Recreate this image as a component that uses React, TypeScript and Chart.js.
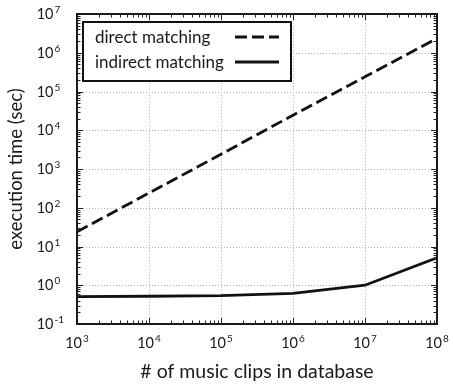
import React, { useEffect, useRef } from "react";
import { Chart, registerables } from "chart.js";

Chart.register(...registerables);

const clips = [1e3, 1e4, 1e5, 1e6, 1e7, 1e8];
const directTimes = [24, 240, 2400, 24500, 240000, 2350000];
const indirectTimes = [0.51, 0.52, 0.54, 0.62, 1.0, 5.1];
const seriesLabels = ["direct matching", "indirect matching"];
const xTickExps = [3, 4, 5, 6, 7, 8];
const yTickExps = [-1, 0, 1, 2, 3, 4, 5, 6, 7];
const xTitle = "# of music clips in database";
const yTitle = "execution time (sec)";

const FONT = "Lato, 'Open Sans', sans-serif";
const BASE_SIZE = 14.5;
const EXP_SIZE = 10;

function drawPowerLabel(ctx: CanvasRenderingContext2D, exp: number, x: number, y: number, mode: "x" | "y") {
  const base = "10";
  const ex = String(exp);
  ctx.font = `${BASE_SIZE}px ${FONT}`;
  const wb = ctx.measureText(base).width;
  ctx.font = `${EXP_SIZE}px ${FONT}`;
  const we = ctx.measureText(ex).width;
  ctx.fillStyle = "#1a1a1a";
  ctx.textBaseline = "middle";
  let bx: number;
  if (mode === "x") {
    bx = x - (wb + we + 1) / 2;
  } else {
    bx = 53.5 - wb;
  }
  ctx.textAlign = "left";
  ctx.font = `${BASE_SIZE}px ${FONT}`;
  ctx.fillText(base, bx, y);
  ctx.font = `${EXP_SIZE}px ${FONT}`;
  ctx.fillText(ex, bx + wb + 1, y - 4.5);
}

const framePlugin = {
  id: "framePlugin",
  beforeDatasetsDraw(chart: any) {
    const { ctx, chartArea, scales } = chart;
    const { left, right, top, bottom } = chartArea;
    const xs = scales.x;
    const ys = scales.y;
    ctx.save();
    ctx.strokeStyle = "#b5b5b5";
    ctx.lineWidth = 1;
    ctx.setLineDash([1, 2]);
    xTickExps.slice(1, -1).forEach((e) => {
      const px = Math.round(xs.getPixelForValue(Math.pow(10, e))) + 0.5;
      ctx.beginPath();
      ctx.moveTo(px, top);
      ctx.lineTo(px, bottom);
      ctx.stroke();
    });
    yTickExps.slice(1, -1).forEach((e) => {
      const py = Math.round(ys.getPixelForValue(Math.pow(10, e))) + 0.5;
      ctx.beginPath();
      ctx.moveTo(left, py);
      ctx.lineTo(right, py);
      ctx.stroke();
    });
    ctx.restore();
  },
  afterDatasetsDraw(chart: any) {
    const { ctx, chartArea, scales } = chart;
    const { left, right, top, bottom } = chartArea;
    const xs = scales.x;
    const ys = scales.y;
    ctx.save();
    ctx.setLineDash([]);
    ctx.strokeStyle = "#222";
    ctx.lineWidth = 1;
    for (let d = xTickExps[0]; d < xTickExps[xTickExps.length - 1]; d++) {
      for (let m = 1; m <= 9; m++) {
        const v = m * Math.pow(10, d);
        const px = Math.round(xs.getPixelForValue(v)) + 0.5;
        const len = m === 1 ? 6 : 3.5;
        ctx.beginPath();
        ctx.moveTo(px, bottom);
        ctx.lineTo(px, bottom - len);
        ctx.moveTo(px, top);
        ctx.lineTo(px, top + len);
        ctx.stroke();
      }
    }
    for (let d = yTickExps[0]; d < yTickExps[yTickExps.length - 1]; d++) {
      for (let m = 1; m <= 9; m++) {
        const v = m * Math.pow(10, d);
        const py = Math.round(ys.getPixelForValue(v)) + 0.5;
        const len = m === 1 ? 6 : 3.5;
        ctx.beginPath();
        ctx.moveTo(left, py);
        ctx.lineTo(left + len, py);
        ctx.moveTo(right, py);
        ctx.lineTo(right - len, py);
        ctx.stroke();
      }
    }
    ctx.lineWidth = 2;
    ctx.strokeStyle = "#1a1a1a";
    ctx.strokeRect(left, top, right - left, bottom - top);

    xTickExps.forEach((e) => {
      const px = xs.getPixelForValue(Math.pow(10, e));
      drawPowerLabel(ctx, e, px, bottom + 19, "x");
    });
    yTickExps.forEach((e) => {
      const py = ys.getPixelForValue(Math.pow(10, e));
      drawPowerLabel(ctx, e, 0, py + 0.5, "y");
    });

    const lx = left + 6;
    const ly = top + 8;
    const lw = 208;
    const lh = 59;
    ctx.fillStyle = "#ffffff";
    ctx.fillRect(lx, ly, lw, lh);
    ctx.lineWidth = 2;
    ctx.strokeStyle = "#111";
    ctx.strokeRect(lx, ly, lw, lh);
    ctx.font = `17px ${FONT}`;
    ctx.fillStyle = "#1a1a1a";
    ctx.textAlign = "left";
    ctx.textBaseline = "middle";
    const rows = [ly + 16, ly + 41];
    chart.data.datasets.forEach((ds: any, i: number) => {
      ctx.fillText(ds.label, lx + 12, rows[i]);
      ctx.beginPath();
      ctx.lineWidth = ds.borderWidth;
      ctx.strokeStyle = ds.borderColor;
      ctx.setLineDash(ds.borderDash || []);
      ctx.moveTo(lx + 152, rows[i] - 1);
      ctx.lineTo(lx + 196, rows[i] - 1);
      ctx.stroke();
    });
    ctx.restore();
  },
};

export default function App() {
  const canvasRef = useRef<HTMLCanvasElement | null>(null);

  useEffect(() => {
    if (!canvasRef.current) return;
    const chart = new Chart(canvasRef.current, {
      type: "line",
      data: {
        datasets: [
          {
            label: seriesLabels[0],
            data: clips.map((c, i) => ({ x: c, y: directTimes[i] })),
            borderColor: "#111",
            borderWidth: 2.8,
            borderDash: [12, 5],
            pointRadius: 0,
            fill: false,
            tension: 0,
          },
          {
            label: seriesLabels[1],
            data: clips.map((c, i) => ({ x: c, y: indirectTimes[i] })),
            borderColor: "#111",
            borderWidth: 2.8,
            pointRadius: 0,
            fill: false,
            tension: 0,
          },
        ],
      },
      options: {
        animation: false,
        responsive: false,
        maintainAspectRatio: false,
        layout: { padding: { top: 14, right: 16, left: 0, bottom: 0 } },
        plugins: {
          legend: { display: false },
          tooltip: { enabled: false },
        },
        scales: {
          x: {
            type: "logarithmic",
            min: 1e3,
            max: 1e8,
            grid: { display: false },
            border: { display: false },
            ticks: { display: false },
            afterFit: (s: any) => {
              s.height = 63;
            },
            title: {
              display: true,
              text: xTitle,
              color: "#1a1a1a",
              font: { family: FONT, size: 19.5 },
              padding: { top: 0, bottom: 4 },
            },
          },
          y: {
            type: "logarithmic",
            min: 1e-1,
            max: 1e7,
            grid: { display: false },
            border: { display: false },
            ticks: { display: false },
            afterFit: (s: any) => {
              s.width = 77;
            },
            title: {
              display: true,
              text: yTitle,
              color: "#1a1a1a",
              font: { family: FONT, size: 18.5 },
              padding: { top: 5, bottom: 0 },
            },
          },
        },
      },
      plugins: [framePlugin],
    } as any);
    return () => chart.destroy();
  }, []);

  return (
    <div style={{ position: "fixed", left: 0, top: 0, width: 453, height: 387, background: "#fff" }}>
      <canvas ref={canvasRef} width={453} height={387} style={{ width: 453, height: 387, display: "block" }} />
    </div>
  );
}
